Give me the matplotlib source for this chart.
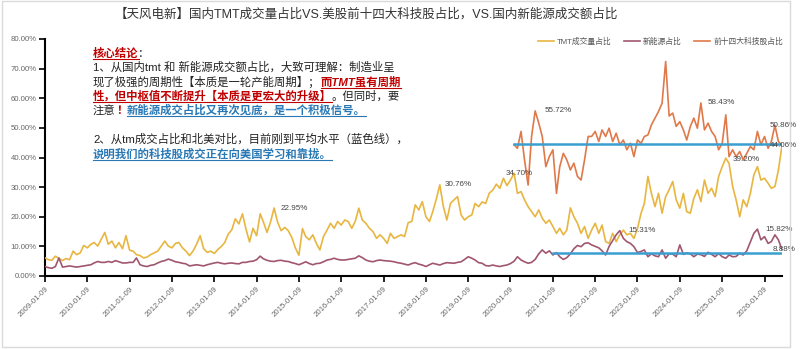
import matplotlib
matplotlib.use('Agg')
import matplotlib.pyplot as plt
import numpy as np
import pandas as pd
from matplotlib.lines import Line2D
from matplotlib.patches import Rectangle
from matplotlib.transforms import IdentityTransform
from matplotlib.ticker import FuncFormatter, MultipleLocator
import matplotlib.dates as mdates

plt.rcParams['font.family'] = ['Liberation Sans', 'Noto Sans CJK SC', 'DejaVu Sans']

# ---------------- data (percent, monthly) ----------------
tmt_start = '2009-01-09'
tmt_share = [
    6.1, 5.5, 5.3, 6.7, 5.9, 5.2, 5.9, 5.5, 8.4, 7.2, 7.8, 10.3,          # 2009
    9.5, 10.7, 11.3, 10.1, 12.4, 14.7, 10.7, 11.8, 9.5, 11.3, 9.2, 13.6,  # 2010
    8.7, 8.4, 7.2, 6.9, 6.1, 6.4, 7.2, 7.8, 8.4, 10.1, 11.8, 10.1,        # 2011
    9.5, 11.0, 11.3, 9.5, 8.4, 6.9, 8.4, 10.7, 13.6, 9.2, 8.0, 8.4,       # 2012
    7.6, 9.0, 9.9, 11.3, 14.1, 15.6, 19.3, 17.6, 21.0, 15.9, 11.5, 16.1,  # 2013
    13.6, 21.0, 18.2, 14.7, 18.2, 22.95, 18.2, 15.3, 16.4, 15.3, 13.0, 9.5,  # 2014
    7.0, 16.0, 13.3, 12.2, 13.9, 11.0, 8.8, 13.3, 15.5, 17.8, 16.1, 18.4,  # 2015
    17.2, 18.9, 18.4, 16.1, 18.4, 22.9, 18.9, 17.8, 16.1, 15.0, 12.7, 13.9,  # 2016
    12.7, 11.0, 14.4, 12.7, 13.3, 13.9, 13.3, 18.0, 18.4, 24.0, 22.3, 25.1,  # 2017
    20.0, 18.4, 21.7, 26.0, 30.76, 23.4, 18.9, 24.5, 25.7, 26.8, 20.6, 18.9,  # 2018
    20.0, 20.6, 24.5, 23.4, 25.0, 24.5, 27.9, 29.0, 31.0, 29.6, 33.0, 30.5,  # 2019
    32.4, 34.70, 27.9, 28.5, 25.7, 23.4, 21.7, 20.0, 22.3, 19.5, 17.8, 18.9,  # 2020
    16.7, 14.4, 16.1, 13.9, 15.5, 23.0, 20.0, 17.8, 14.4, 16.7, 12.7, 15.5,  # 2021
    17.8, 14.4, 17.2, 11.6, 11.0, 14.4, 11.6, 13.9, 15.5, 13.9, 14.4, 12.7,  # 2022
    16.1, 21.2, 24.5, 33.6, 27.9, 23.4, 27.9, 21.2, 26.8, 29.1, 31.9, 25.7,  # 2023
    22.9, 27.9, 21.7, 21.2, 26.2, 29.1, 25.1, 32.4, 27.9, 29.6, 26.8, 33.6,  # 2024
    36.9, 39.8, 38.0, 30.2, 25.7, 20.0, 25.7, 23.4, 27.9, 34.1, 36.9, 32.4,  # 2025
    33.0, 31.3, 29.6, 30.2, 35.8, 44.06,                                  # 2026
]

ne_start = '2009-01-09'
ne_share = [
    3.2, 2.8, 2.6, 3.2, 6.1, 3.0, 3.2, 3.4, 3.2, 3.0, 3.2, 3.4,   # 2009
    3.6, 3.8, 4.4, 4.9, 4.6, 4.6, 4.9, 4.6, 5.2, 4.8, 4.4, 4.4,   # 2010
    4.6, 4.6, 6.1, 3.8, 3.4, 3.2, 3.6, 3.8, 4.4, 4.9, 5.2, 5.7,   # 2011
    5.3, 4.8, 4.6, 4.3, 4.1, 3.4, 3.6, 3.8, 3.6, 3.4, 3.8, 4.1,   # 2012
    4.4, 4.6, 4.3, 4.1, 4.3, 4.4, 4.2, 4.1, 4.6, 4.6, 4.9, 5.0,   # 2013
    5.5, 6.7, 5.8, 5.3, 5.0, 4.9, 5.2, 5.3, 5.0, 4.9, 4.5, 4.2,   # 2014
    3.8, 4.3, 4.8, 4.2, 3.8, 4.2, 4.3, 4.8, 5.4, 5.6, 6.0, 5.6,   # 2015
    5.4, 5.4, 5.6, 5.8, 6.0, 6.8, 6.2, 5.4, 5.0, 4.8, 5.2, 5.4,   # 2016
    5.2, 5.1, 5.0, 4.8, 4.5, 4.3, 4.0, 3.7, 4.2, 4.5, 4.0, 3.7,   # 2017
    3.2, 3.8, 4.3, 4.0, 3.7, 4.2, 4.5, 4.4, 4.3, 4.6, 4.8, 5.6,   # 2018
    6.5, 6.0, 5.4, 4.5, 4.3, 3.5, 3.4, 3.7, 3.4, 3.2, 3.5, 3.7,   # 2019
    4.2, 5.0, 6.5, 5.4, 4.8, 4.3, 4.6, 5.6, 7.5, 8.8, 7.7, 8.5,   # 2020
    7.1, 7.9, 6.5, 5.6, 6.2, 7.5, 9.2, 10.3, 9.9, 11.0, 11.2, 10.5,  # 2021
    10.0, 9.5, 8.5, 7.1, 10.0, 12.0, 13.9, 15.31, 12.7, 11.6, 11.0, 9.9,  # 2022
    7.9, 8.3, 8.8, 6.5, 7.5, 6.8, 6.5, 8.8, 6.0, 7.5, 7.4, 6.5,   # 2023
    10.5, 7.3, 7.8, 7.5, 6.5, 7.4, 7.2, 6.6, 8.0, 7.3, 6.5, 7.6,  # 2024
    6.5, 6.0, 7.1, 6.5, 6.6, 7.7, 7.1, 8.5, 11.5, 14.4, 15.82, 12.2,  # 2025
    13.3, 11.0, 11.6, 13.9, 12.2, 8.88,                           # 2026
]

us14_start = '2020-02-09'
us14_share = [
    44.3, 43.1, 48.8, 39.2, 30.7, 47.1, 55.72, 51.6, 47.1, 36.9, 40.3,   # 2020
    42.6, 27.9, 36.9, 41.4, 39.2, 35.8, 38.1, 33.6, 32.4, 39.2, 47.1, 47.1,  # 2021
    48.8, 45.4, 49.3, 47.1, 49.9, 45.4, 48.2, 44.3, 45.9, 42.6, 44.8, 40.3,  # 2022
    45.9, 44.8, 47.1, 47.6, 51.0, 53.3, 55.5, 58.3, 72.4, 54.0, 55.0, 50.5,  # 2023
    52.1, 49.3, 45.9, 50.5, 53.3, 49.9, 58.43, 49.3, 51.6, 48.8, 47.1, 42.6,  # 2024
    44.8, 54.4, 40.3, 42.6, 40.3, 42.0, 39.2, 41.4, 43.7, 42.6, 48.8, 44.3,  # 2025
    47.1, 43.1, 45.4, 50.86, 45.4, 44.06,                                # 2026
]

us14_avg = 44.6
us14_avg_start = '2020-02-09'
ne_avg = 7.8
ne_avg_start = '2021-01-09'

series_names = ['TMT成交量占比', '新能源占比', '前十四大科技股占比']

value_labels = [  # (text, x date, y value)
    ('22.95%', '2014-08-07', 22.95),
    ('30.76%', '2018-06-17', 30.76),
    ('34.70%', '2019-12-01', 34.70),
    ('55.72%', '2020-10-27', 55.72),
    ('58.43%', '2024-09-01', 58.43),
    ('50.86%', '2026-02-20', 50.86),
    ('44.06%', '2026-02-20', 44.06),
    ('39.20%', '2025-04-08', 39.20),
    ('15.31%', '2022-10-23', 15.31),
    ('15.82%', '2026-01-20', 15.82),
    ('8.88%', '2026-03-18', 8.88),
]

tick_years = list(range(2009, 2027))

# ---------------- figure ----------------
W, H = 800, 349
fig = plt.figure(figsize=(W / 100, H / 100), dpi=100)
fig.patch.set_facecolor('white')
ax = fig.add_axes([45 / W, 1 - 276 / H, (782 - 45) / W, (276 - 39) / H])

def monthly(start, vals):
    return pd.date_range(pd.Timestamp(start) - pd.Timedelta(days=8), periods=len(vals), freq='MS') + pd.Timedelta(days=8)

d_tmt = monthly(tmt_start, tmt_share)
d_ne = monthly(ne_start, ne_share)
d_us = monthly(us14_start, us14_share)

c_tmt = '#E8B640'
c_ne = '#A0566F'
c_us = '#E0794A'
c_avg = '#3A9FD0'

ax.plot(d_tmt, tmt_share, color=c_tmt, lw=1.2, label=series_names[0], zorder=3)
ax.plot(d_ne, ne_share, color=c_ne, lw=1.2, label=series_names[1], zorder=3)
ax.plot(d_us, us14_share, color=c_us, lw=1.2, label=series_names[2], zorder=3)

end_date = d_tmt[-1]
ax.plot([pd.Timestamp(us14_avg_start), end_date], [us14_avg, us14_avg], color=c_avg, lw=1.8, zorder=4)
ax.plot([pd.Timestamp(ne_avg_start), end_date], [ne_avg, ne_avg], color=c_avg, lw=1.8, zorder=4)

for txt, xd, yv in value_labels:
    ax.text(pd.Timestamp(xd), yv, txt, fontsize=5.8, color='#444444', ha='left', va='center', zorder=5)

ax.set_xlim(pd.Timestamp('2009-01-09'), end_date)
ax.set_ylim(0, 80)
ax.yaxis.set_major_locator(MultipleLocator(10))
ax.yaxis.set_major_formatter(FuncFormatter(lambda v, p: f'{v:.2f}%'))
ticks = [pd.Timestamp(f'{y}-01-09') for y in tick_years]
ax.set_xticks(ticks)
ax.set_xticklabels([t.strftime('%Y-%m-%d') for t in ticks], rotation=45, ha='right', va='top',
                   rotation_mode='anchor')
for s in ['top', 'right']:
    ax.spines[s].set_visible(False)
for s in ['left', 'bottom']:
    ax.spines[s].set_linewidth(1.5)
    ax.spines[s].set_color('black')
ax.tick_params(axis='both', direction='out', length=4, width=1.2, color='black',
               labelcolor='#666666', labelsize=5.6)
ax.tick_params(axis='x', pad=3)
ax.tick_params(axis='y', pad=2)
ax.set_facecolor('white')

# legend
leg = fig.legend(loc='center left', bbox_to_anchor=(538 / W, 1 - 42 / H), ncol=3, frameon=False,
                 fontsize=5.6, handlelength=2.0, handletextpad=0.45, columnspacing=1.6,
                 borderpad=0, borderaxespad=0, labelcolor='#555555')

# title
fig.text(115 / W, 1 - 14 / H, '【天风电新】国内TMT成交量占比VS.美股前十四大科技股占比，VS.国内新能源成交额占比',
         fontsize=9, color='#333333', ha='left', va='center')

# annotation block
renderer = fig.canvas.get_renderer()
BLACK = '#222222'
RED = '#C00000'
BLUE = '#2878B5'
FS = 8.2

def draw_runs(x0, ytop, runs):
    x = x0
    base = H - ytop
    for s, color, weight, style, ul in runs:
        t = fig.text(x, base, s, transform=IdentityTransform(), fontsize=FS, color=color,
                     fontweight=weight, fontstyle=style, ha='left', va='baseline')
        bb = t.get_window_extent(renderer=renderer)
        if ul:
            fig.add_artist(Line2D([x, x + bb.width], [base - 2.2, base - 2.2],
                                  transform=IdentityTransform(), color=color, lw=0.8))
        x += bb.width

X0 = 93
draw_runs(X0, 57, [('核心结论', RED, 'bold', 'italic', True), ('：', BLACK, 'normal', 'normal', False)])
draw_runs(X0, 71, [('1、从国内tmt 和 新能源成交额占比，大致可理解：制造业呈', BLACK, 'normal', 'normal', False)])
draw_runs(X0, 85.5, [('现了极强的周期性【本质是一轮产能周期】；', BLACK, 'normal', 'normal', False),
                     ('而TMT虽有周期', RED, 'bold', 'italic', True)])
draw_runs(X0, 100, [('性，但中枢值不断提升【本质是更宏大的升级】', RED, 'bold', 'italic', True),
                    ('。但同时，要', BLACK, 'normal', 'normal', False)])
draw_runs(X0, 114, [('注意', BLACK, 'normal', 'normal', False), ('！', RED, 'bold', 'normal', False),
                    ('新能源成交占比又再次见底，是一个积极信号。', BLUE, 'bold', 'italic', True)])
draw_runs(X0, 143, [('2、从tm成交占比和北美对比，目前刚到平均水平（蓝色线），', BLACK, 'normal', 'normal', False)])
draw_runs(X0, 157.5, [('说明我们的科技股成交正在向美国学习和靠拢。', BLUE, 'bold', 'italic', True)])

# outer frame
fig.add_artist(Rectangle((2, 2), 788, 346, transform=IdentityTransform(), fill=False,
                         edgecolor='#DADADA', lw=1.0))

fig.savefig('out.png', dpi=100)
